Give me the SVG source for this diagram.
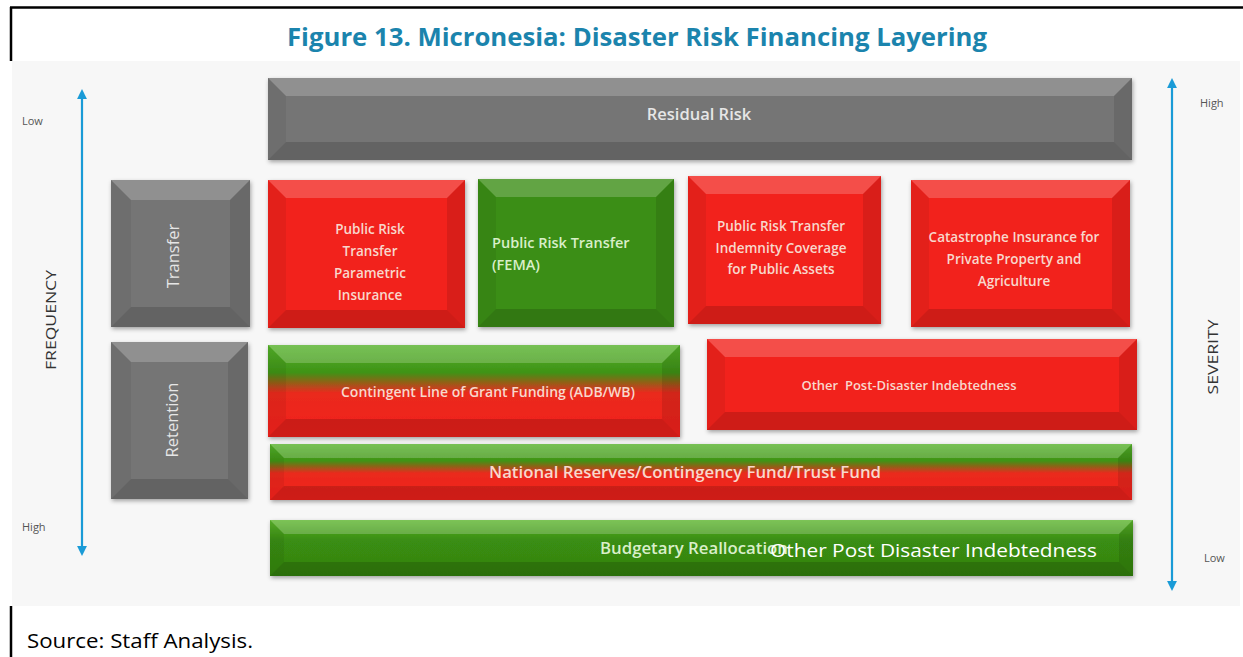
<svg xmlns="http://www.w3.org/2000/svg" width="1243" height="657" viewBox="0 0 1243 657">
<defs>
<style>
.frame{stroke:#000;stroke-width:2.5;fill:none}
.title{font-family:"Open Sans","Liberation Sans",sans-serif;font-weight:700;font-size:25px;fill:#1b84ad}
.src{font-family:"Open Sans","Liberation Sans",sans-serif;font-size:20px;fill:#000}
.axis{font-family:"Open Sans","Liberation Sans",sans-serif;font-size:11px;fill:#555}
.axt{font-family:"Open Sans","Liberation Sans",sans-serif;font-size:15px;fill:#333}
.gray{fill:#757575}
.red{fill:#f2221a}
.green{fill:#3a8e12}
.bt{fill:#fff;opacity:.2}
.bb{fill:#000;opacity:.15}
.bl{fill:#000;opacity:.06}
.br{fill:#000;opacity:.1}
.t{font-family:"Open Sans","Liberation Sans",sans-serif;font-weight:600;font-size:13.5px;text-anchor:middle}
.tr{fill:#f8d8cc}
.tg{fill:#d9efc9}
.tgy{fill:#e6e6e6}
.arrow{stroke:#1a9bd7;stroke-width:2.2;fill:none}
</style>
<linearGradient id="gr" x1="0" y1="0" x2="0" y2="1">
<stop offset="0" stop-color="#55b22a"/>
<stop offset="0.3" stop-color="#3f9316"/>
<stop offset="0.52" stop-color="#ea2a1c"/>
<stop offset="1" stop-color="#f2201a"/>
</linearGradient>
<linearGradient id="gg" x1="0" y1="0" x2="0" y2="1">
<stop offset="0" stop-color="#5cb52e"/>
<stop offset="0.35" stop-color="#3a8e12"/>
<stop offset="1" stop-color="#338210"/>
</linearGradient>
<filter id="sh" x="-5%" y="-10%" width="110%" height="125%">
<feDropShadow dx="1" dy="2" stdDeviation="2" flood-color="#000" flood-opacity="0.35"/>
</filter>
<marker id="ah" viewBox="0 0 10 10" refX="5" refY="5" markerWidth="4.5" markerHeight="4.5" orient="auto-start-reverse">
<path d="M0 0 L10 5 L0 10 Z" fill="#1a9bd7"/>
</marker>
</defs>
<rect x="0" y="0" width="1243" height="657" fill="#fff"/>
<rect x="12" y="61" width="1228" height="545" fill="#f7f7f7"/>
<path class="frame" d="M10 7.5 L1243 7.5 M11 7 L11 61 M11 606 L11 657"/>
<text class="title" x="637" y="46" text-anchor="middle" textLength="700" lengthAdjust="spacingAndGlyphs">Figure 13. Micronesia: Disaster Risk Financing Layering</text>
<text class="src" x="27" y="648" textLength="226" lengthAdjust="spacingAndGlyphs">Source: Staff Analysis.</text>

<g id="connectors">
<line class="arrow" x1="82" y1="94" x2="82" y2="551" marker-start="url(#ah)" marker-end="url(#ah)"/>
<line class="arrow" x1="1172" y1="83" x2="1172" y2="586" marker-start="url(#ah)" marker-end="url(#ah)"/>
</g>

<g id="axis-labels">
<text class="axis" x="22" y="125">Low</text>
<text class="axis" x="22" y="531">High</text>
<text class="axt" transform="translate(56 320) rotate(-90)" text-anchor="middle" textLength="100" lengthAdjust="spacingAndGlyphs">FREQUENCY</text>
<text class="axis" x="1200" y="107">High</text>
<text class="axis" x="1204" y="562">Low</text>
<text class="axt" transform="translate(1218 357) rotate(-90)" text-anchor="middle" textLength="75" lengthAdjust="spacingAndGlyphs">SEVERITY</text>
</g>

<g id="residual-risk">
<rect class="gray" x="268" y="78" width="864" height="82" filter="url(#sh)"/>
<path class="bt" d="M268 78 L1132 78 L1114 96 L286 96 Z"/>
<path class="bb" d="M268 160 L1132 160 L1114 142 L286 142 Z"/>
<path class="bl" d="M268 78 L286 96 L286 142 L268 160 Z"/>
<path class="br" d="M1132 78 L1132 160 L1114 142 L1114 96 Z"/>
<text class="t tgy" x="699" y="120" style="font-size:16.5px">Residual Risk</text>
</g>

<g id="transfer">
<rect class="gray" x="111" y="180" width="139" height="147" filter="url(#sh)"/>
<path class="bt" d="M111 180 L250 180 L230 200 L131 200 Z"/>
<path class="bb" d="M111 327 L250 327 L230 307 L131 307 Z"/>
<path class="bl" d="M111 180 L131 200 L131 307 L111 327 Z"/>
<path class="br" d="M250 180 L250 327 L230 307 L230 200 Z"/>
<text class="t tgy" transform="translate(179 256) rotate(-90)" style="font-size:16.5px;font-weight:400">Transfer</text>
</g>

<g id="retention">
<rect class="gray" x="111" y="342" width="137" height="157" filter="url(#sh)"/>
<path class="bt" d="M111 342 L248 342 L228 362 L131 362 Z"/>
<path class="bb" d="M111 499 L248 499 L228 479 L131 479 Z"/>
<path class="bl" d="M111 342 L131 362 L131 479 L111 499 Z"/>
<path class="br" d="M248 342 L248 499 L228 479 L228 362 Z"/>
<text class="t tgy" transform="translate(178 420) rotate(-90)" style="font-size:16.5px;font-weight:400">Retention</text>
</g>

<g id="parametric">
<rect class="red" x="268" y="180" width="197" height="148" filter="url(#sh)"/>
<path class="bt" d="M268 180 L465 180 L447 198 L286 198 Z"/>
<path class="bb" d="M268 328 L465 328 L447 310 L286 310 Z"/>
<path class="bl" d="M268 180 L286 198 L286 310 L268 328 Z"/>
<path class="br" d="M465 180 L465 328 L447 310 L447 198 Z"/>
<text class="t tr" x="370" y="234">Public Risk</text>
<text class="t tr" x="370" y="256">Transfer</text>
<text class="t tr" x="370" y="278">Parametric</text>
<text class="t tr" x="370" y="300">Insurance</text>
</g>

<g id="fema">
<rect class="green" x="478" y="179" width="196" height="148" filter="url(#sh)"/>
<path class="bt" d="M478 179 L674 179 L656 197 L496 197 Z"/>
<path class="bb" d="M478 327 L674 327 L656 309 L496 309 Z"/>
<path class="bl" d="M478 179 L496 197 L496 309 L478 327 Z"/>
<path class="br" d="M674 179 L674 327 L656 309 L656 197 Z"/>
<text class="t tg" x="492" y="248" style="text-anchor:start;font-size:14.5px">Public Risk Transfer</text>
<text class="t tg" x="492" y="270" style="text-anchor:start;font-size:14.5px">(FEMA)</text>
</g>

<g id="indemnity">
<rect class="red" x="688" y="176" width="193" height="148" filter="url(#sh)"/>
<path class="bt" d="M688 176 L881 176 L863 194 L706 194 Z"/>
<path class="bb" d="M688 324 L881 324 L863 306 L706 306 Z"/>
<path class="bl" d="M688 176 L706 194 L706 306 L688 324 Z"/>
<path class="br" d="M881 176 L881 324 L863 306 L863 194 Z"/>
<text class="t tr" x="781" y="231">Public Risk Transfer</text>
<text class="t tr" x="781" y="253">Indemnity Coverage</text>
<text class="t tr" x="781" y="274">for Public Assets</text>
</g>

<g id="catastrophe">
<rect class="red" x="911" y="180" width="219" height="147" filter="url(#sh)"/>
<path class="bt" d="M911 180 L1130 180 L1112 198 L929 198 Z"/>
<path class="bb" d="M911 327 L1130 327 L1112 309 L929 309 Z"/>
<path class="bl" d="M911 180 L929 198 L929 309 L911 327 Z"/>
<path class="br" d="M1130 180 L1130 327 L1112 309 L1112 198 Z"/>
<text class="t tr" x="1014" y="242">Catastrophe Insurance for</text>
<text class="t tr" x="1014" y="264">Private Property and</text>
<text class="t tr" x="1014" y="286">Agriculture</text>
</g>

<g id="contingent">
<rect x="268" y="345" width="412" height="92" fill="url(#gr)" filter="url(#sh)"/>
<path class="bt" d="M268 345 L680 345 L662 363 L286 363 Z"/>
<path class="bb" d="M268 437 L680 437 L662 419 L286 419 Z"/>
<path class="bl" d="M268 345 L286 363 L286 419 L268 437 Z"/>
<path class="br" d="M680 345 L680 437 L662 419 L662 363 Z"/>
<text class="t tr" x="488" y="397" style="font-size:14px">Contingent Line of Grant Funding (ADB/WB)</text>
</g>

<g id="other-indebtedness">
<rect class="red" x="707" y="339" width="430" height="91" filter="url(#sh)"/>
<path class="bt" d="M707 339 L1137 339 L1119 357 L725 357 Z"/>
<path class="bb" d="M707 430 L1137 430 L1119 412 L725 412 Z"/>
<path class="bl" d="M707 339 L725 357 L725 412 L707 430 Z"/>
<path class="br" d="M1137 339 L1137 430 L1119 412 L1119 357 Z"/>
<text class="t tr" x="909" y="390" style="font-size:13px" xml:space="preserve">Other  Post-Disaster Indebtedness</text>
</g>

<g id="national-reserves">
<rect x="270" y="444" width="862" height="56" fill="url(#gr)" filter="url(#sh)"/>
<path class="bt" d="M270 444 L1132 444 L1118 458 L284 458 Z"/>
<path class="bb" d="M270 500 L1132 500 L1118 486 L284 486 Z"/>
<path class="bl" d="M270 444 L284 458 L284 486 L270 500 Z"/>
<path class="br" d="M1132 444 L1132 500 L1118 486 L1118 458 Z"/>
<text class="t tr" x="685" y="478" style="font-size:16.8px">National Reserves/Contingency Fund/Trust Fund</text>
</g>

<g id="budgetary">
<rect x="270" y="520" width="863" height="56" fill="url(#gg)" filter="url(#sh)"/>
<path class="bt" d="M270 520 L1133 520 L1119 534 L284 534 Z"/>
<path class="bb" d="M270 576 L1133 576 L1119 562 L284 562 Z"/>
<path class="bl" d="M270 520 L284 534 L284 562 L270 576 Z"/>
<path class="br" d="M1133 520 L1133 576 L1119 562 L1119 534 Z"/>
<text class="t tg" x="600" y="554" style="text-anchor:start;font-size:16px" textLength="188" lengthAdjust="spacingAndGlyphs">Budgetary Reallocation</text>
<text x="770" y="557" fill="#fff" style="font-family:'Open Sans','Liberation Sans',sans-serif;font-size:19px" textLength="327" lengthAdjust="spacingAndGlyphs">Other Post Disaster Indebtedness</text>
</g>
</svg>
